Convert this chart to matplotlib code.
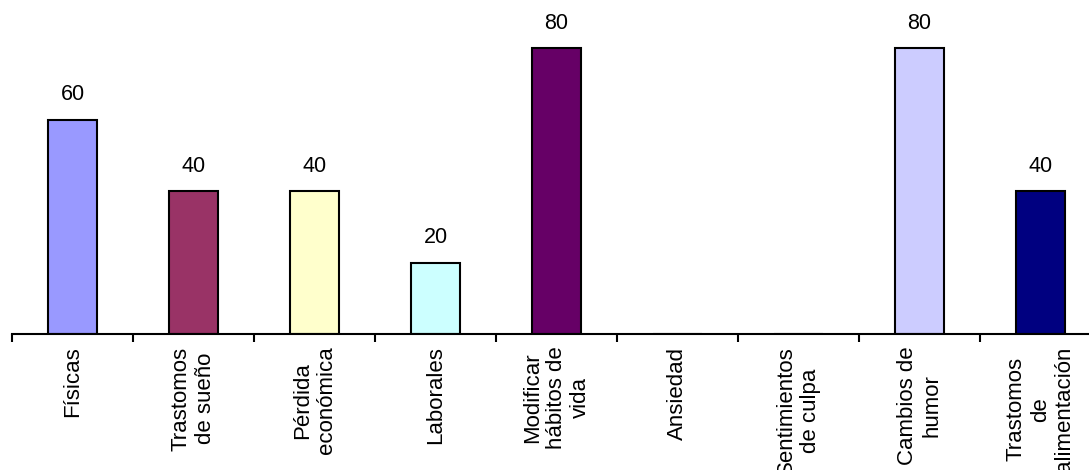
import matplotlib
matplotlib.use("Agg")
import matplotlib.pyplot as plt

plt.rcParams['font.family'] = ['Liberation Sans', 'DejaVu Sans']

categories = ["Físicas", "Trastomos\nde sueño", "Pérdida\neconómica", "Laborales",
              "Modificar\nhábitos de\nvida", "Ansiedad", "Sentimientos\nde culpa",
              "Cambios de\nhumor", "Trastomos\nde\nalimentación"]
values = [60, 40, 40, 20, 80, 0, 0, 80, 40]
colors = ["#9999FF", "#993366", "#FFFFCC", "#CCFFFF", "#660066",
          "#FF8080", "#0066CC", "#CCCCFF", "#000080"]

W, H = 1089, 470
fig = plt.figure(figsize=(W / 100, H / 100), dpi=100)
left = 12 / W
right = 1101 / W
bottom = (H - 334) / H
ax = fig.add_axes([left, bottom, right - left, 1 - bottom])

x = list(range(len(categories)))
bars = ax.bar(x, values, width=0.4, color=colors, edgecolor="black", linewidth=1.5)
for xi, v in zip(x, values):
    if v > 0:
        ax.text(xi, v + 4, str(v), ha="center", va="bottom", fontsize=15.5)

ax.set_xlim(-0.5, len(categories) - 0.5)
ax.set_ylim(0, 334 / 3.575)
for s in ["top", "right", "left"]:
    ax.spines[s].set_visible(False)
ax.spines["bottom"].set_linewidth(1.5)
ax.set_yticks([])
ax.set_xticks([i - 0.5 for i in range(len(categories) + 1)])
ax.set_xticklabels([])
ax.tick_params(axis="x", length=6, width=1.5, direction="out")
ax.set_xticks(x, minor=True)
ax.set_xticklabels(categories, minor=True, rotation=90, fontsize=16,
                   ha="center", va="top", multialignment="center", linespacing=1.2)
ax.tick_params(axis="x", which="minor", length=0, pad=9)
# keep last label inside the figure horizontally
labels = ax.get_xticklabels(minor=True)
labels[-1].set_x(len(categories) - 1.05)

fig.savefig("out.png", dpi=100)
